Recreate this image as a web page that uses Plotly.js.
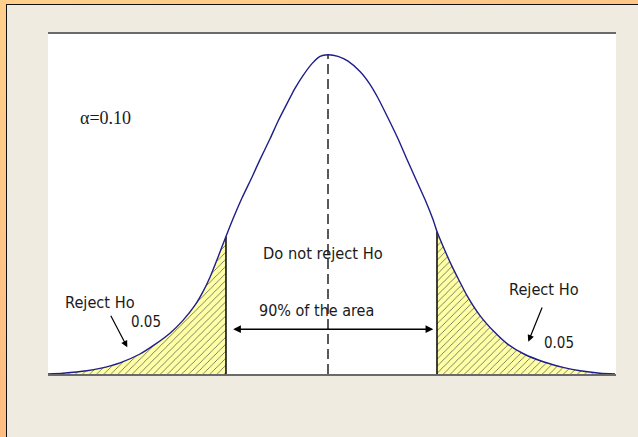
<!DOCTYPE html>
<html>
<head>
<meta charset="utf-8">
<script src="https://cdn.plot.ly/plotly-3.0.1.min.js"></script>
<style>
  html, body { margin: 0; padding: 0; }
  #frame { position: relative; width: 638px; height: 437px; overflow: hidden;
           background: linear-gradient(160deg, #FFD08C 0%, #FFB27C 100%); }
  #inner { position: absolute; left: 6px; top: 4px; right: 0; bottom: 0;
           background: #EFEBE1; border-left: 1.5px solid #111; border-top: 1.5px solid #111; }
  #chart { position: absolute; left: 0; top: 0; width: 638px; height: 437px; }
</style>
</head>
<body>
<div id="frame"><div id="inner"></div><div id="chart"></div></div>
<script>
// Bell curve (x in standard-deviation-like units, y = height)
const curveX = [-4.375, -4.141, -3.766, -3.563, -3.250, -2.938, -2.703, -2.469, -2.266, -2.078,
  -1.953, -1.844, -1.719, -1.594, -1.484, -1.344, -1.188, -1.063, -0.906, -0.781, -0.641,
  -0.516, -0.391, -0.250, -0.125, 0.000, 0.156, 0.313, 0.500, 0.656, 0.781, 0.938, 1.094,
  1.219, 1.359, 1.516, 1.641, 1.703, 1.828, 1.953, 2.016, 2.172, 2.375, 2.594, 2.797,
  3.063, 3.375, 3.688, 3.938, 4.250, 4.484];
const curveY = [0.000, 0.001, 0.004, 0.007, 0.014, 0.025, 0.037, 0.051, 0.067, 0.086,
  0.103, 0.121, 0.146, 0.172, 0.194, 0.220, 0.246, 0.268, 0.294, 0.316, 0.338,
  0.357, 0.373, 0.388, 0.397, 0.399, 0.397, 0.391, 0.378, 0.362, 0.345, 0.320, 0.294,
  0.271, 0.246, 0.218, 0.193, 0.178, 0.154, 0.132, 0.122, 0.098, 0.073, 0.053, 0.038,
  0.025, 0.015, 0.008, 0.004, 0.001, 0.000];
const cutLeft = -1.594;   // left critical value
const cutRight = 1.703;   // right critical value
const centerX = 0.0;
const arrowSpan = [-1.505, 1.645];  // "90% of the area" double arrow
const arrowLevel = 0.056;

const navy = '#1E1E8A';
const yAt = x => curveY[curveX.indexOf(x)];
const leftX = curveX.filter(x => x <= cutLeft), leftY = leftX.map(yAt);
const rightX = curveX.filter(x => x >= cutRight), rightY = rightX.map(yAt);
const peakY = yAt(centerX);

const hatch = {shape: '/', bgcolor: '#FFFFA6', fgcolor: '#4a4a4a', size: 5, solidity: 0.14};
const lineShape = {shape: 'spline', smoothing: 0.5};
const traces = [
  {x: leftX, y: leftY, type: 'scatter', mode: 'lines', fill: 'tozeroy', fillcolor: '#FFFFA6',
   fillpattern: hatch, line: Object.assign({width: 0, color: navy}, lineShape), hoverinfo: 'skip'},
  {x: rightX, y: rightY, type: 'scatter', mode: 'lines', fill: 'tozeroy', fillcolor: '#FFFFA6',
   fillpattern: hatch, line: Object.assign({width: 0, color: navy}, lineShape), hoverinfo: 'skip'},
  {x: [cutLeft, cutLeft], y: [0, yAt(cutLeft)], type: 'scatter', mode: 'lines',
   line: {color: '#000', width: 1.5}},
  {x: [cutRight, cutRight], y: [0, yAt(cutRight)], type: 'scatter', mode: 'lines',
   line: {color: '#000', width: 1.5}},
  {x: [centerX, centerX], y: [0, peakY], type: 'scatter', mode: 'lines',
   line: {color: '#000', width: 1.3, dash: '10px,5px'}},
  {x: curveX, y: curveY, type: 'scatter', mode: 'lines',
   line: Object.assign({color: navy, width: 1.4}, lineShape)}
];

const sans = 'DejaVu Sans Condensed, Liberation Sans, sans-serif';
const txt = (text, x, y, size, family) => ({text, x, y, xref: 'x', yref: 'y', showarrow: false,
  xanchor: 'center', yanchor: 'middle', font: {family: family || sans, size, color: '#1a1a1a'}});

const layout = {
  width: 638, height: 437,
  margin: {l: 48, r: 22, t: 34, b: 63},
  paper_bgcolor: 'rgba(0,0,0,0)',
  plot_bgcolor: '#FFFFFF',
  showlegend: false,
  xaxis: {range: [-4.375, 4.5], showgrid: false, zeroline: false, showticklabels: false, ticks: '',
          showline: true, mirror: true, linecolor: '#6a6a6a', linewidth: 2, layer: 'below traces'},
  yaxis: {range: [0, 0.425], showgrid: false, zeroline: false, showticklabels: false, ticks: '',
          showline: false},
  annotations: [
    txt('α=0.10', -3.474, 0.3204, 18, 'Liberation Serif, Times New Roman, serif'),
    txt('Do not reject Ho', -0.086, 0.151, 16.3),
    txt('90% of the area', -0.183, 0.0788, 16),
    txt('Reject Ho', -3.555, 0.0888, 16.2),
    txt('0.05', -2.839, 0.0654, 15),
    txt('Reject Ho', 3.372, 0.1059, 16.2),
    txt('0.05', 3.606, 0.0391, 15),
    {x: -3.136, y: 0.0334, ax: -3.406, ay: 0.0746, axref: 'x', ayref: 'y', xref: 'x', yref: 'y',
     text: '', showarrow: true, arrowhead: 2, arrowsize: 1.1, arrowwidth: 1.2, arrowcolor: '#000'},
    {x: 3.130, y: 0.0404, ax: 3.355, ay: 0.085, axref: 'x', ayref: 'y', xref: 'x', yref: 'y',
     text: '', showarrow: true, arrowhead: 2, arrowsize: 1.1, arrowwidth: 1.2, arrowcolor: '#000'},
    {x: arrowSpan[1], y: arrowLevel, ax: arrowSpan[0], ay: arrowLevel, axref: 'x', ayref: 'y',
     xref: 'x', yref: 'y', text: '', showarrow: true, arrowhead: 2, startarrowhead: 2,
     arrowside: 'end+start', arrowsize: 1.1, startarrowsize: 1.1, arrowwidth: 1.4, arrowcolor: '#000'}
  ]
};

Plotly.newPlot('chart', traces, layout, {displayModeBar: false, staticPlot: true});
</script>
</body>
</html>
